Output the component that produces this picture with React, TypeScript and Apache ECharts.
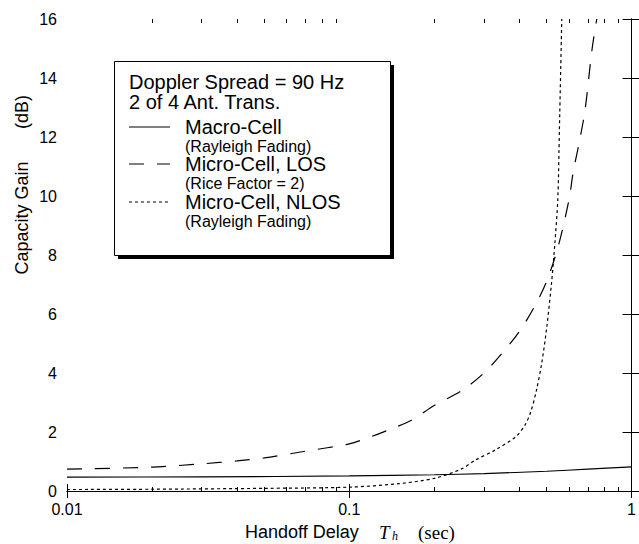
import React, { useEffect, useRef } from "react";
import * as echarts from "echarts";

// ---- data ----
const xTickLabels = ["0.01", "0.1", "1"];
const xMinorTicks = [0.02, 0.03, 0.04, 0.05, 0.06, 0.07, 0.08, 0.09, 0.2, 0.3, 0.4, 0.5, 0.6, 0.7, 0.8, 0.9];
const yMin = 0;
const yMax = 16;
const yStep = 2;

const macroX = [0.01, 0.03, 0.1, 0.2, 0.3, 0.5, 0.7, 1];
const macroY = [0.47, 0.48, 0.51, 0.55, 0.59, 0.67, 0.74, 0.82];

const losX = [0.01, 0.02, 0.03, 0.04, 0.05, 0.07, 0.1, 0.12, 0.136, 0.166, 0.2, 0.25, 0.3, 0.35, 0.4, 0.45, 0.5, 0.55, 0.601, 0.621, 0.652, 0.684, 0.724, 0.753];
const losY = [0.74, 0.81, 0.92, 1.02, 1.12, 1.35, 1.6, 1.85, 2.05, 2.4, 2.9, 3.4, 4.0, 4.7, 5.4, 6.2, 7.1, 8.3, 9.9, 10.8, 11.8, 12.9, 14.95, 16];

const nlosX = [0.01, 0.02, 0.05, 0.1, 0.15, 0.2, 0.25, 0.28, 0.33, 0.39, 0.42, 0.44, 0.46, 0.48, 0.5, 0.52, 0.535, 0.548, 0.555, 0.566];
const nlosY = [0.05, 0.06, 0.09, 0.13, 0.25, 0.43, 0.75, 1.05, 1.4, 1.85, 2.25, 2.7, 3.4, 4.3, 5.5, 7.0, 8.4, 9.9, 12.2, 16];

const legendTitle = ["Doppler Spread = 90 Hz", "2 of 4 Ant. Trans."];
const seriesNames = ["Macro-Cell", "Micro-Cell, LOS", "Micro-Cell, NLOS"];
const seriesNotes = ["(Rayleigh Fading)", "(Rice Factor = 2)", "(Rayleigh Fading)"];
const xAxisName = "Handoff Delay";
const yAxisName = "Capacity Gain";
const yAxisUnit = "(dB)";

const FONT = "'Liberation Sans', Arial, Helvetica, sans-serif";
const SERIF = "'Liberation Serif', 'Times New Roman', serif";

const dashes: (number[] | "solid")[] = ["solid", [15, 13], [3, 3]];

function pairs(xs: number[], ys: number[]) {
  return xs.map((x, i) => [x, ys[i]]);
}

export default function App() {
  const ref = useRef<HTMLDivElement>(null);
  useEffect(() => {
    if (!ref.current) return;
    const chart = echarts.init(ref.current, undefined, { renderer: "svg" });
    const minorLog = xMinorTicks.map((v) => Math.log10(v));
    const axisLine = { show: true, lineStyle: { color: "#000", width: 1 } };

    const legendX = 114;
    const legendY = 61;
    const legendW = 276;
    const legendH = 194;
    const titleY = [82, 102];
    const rowY = [127, 164, 202];
    const noteDy = 19;
    const graphic: any[] = [
      { type: "rect", z: 100, shape: { x: legendX + 4, y: legendY + 4, width: legendW, height: legendH }, style: { fill: "#000" } },
      { type: "rect", z: 101, shape: { x: legendX + 0.5, y: legendY + 0.5, width: legendW, height: legendH }, style: { fill: "#fff", stroke: "#000", lineWidth: 1 } },
      { type: "text", z: 102, x: 129, y: titleY[0], style: { text: legendTitle[0], fontSize: 20, fontFamily: FONT, fill: "#000", align: "left", verticalAlign: "middle" } },
      { type: "text", z: 102, x: 129, y: titleY[1], style: { text: legendTitle[1], fontSize: 20, fontFamily: FONT, fill: "#000", align: "left", verticalAlign: "middle" } },
    ];
    seriesNames.forEach((name, i) => {
      const d = dashes[i];
      graphic.push({
        type: "line", z: 102,
        shape: { x1: 129, y1: rowY[i], x2: 170, y2: rowY[i] },
        style: { stroke: "#000", lineWidth: 1.2, lineDash: d === "solid" ? null : d },
      });
      graphic.push({ type: "text", z: 102, x: 185, y: rowY[i], style: { text: name, fontSize: 20, fontFamily: FONT, fill: "#000", align: "left", verticalAlign: "middle" } });
      graphic.push({ type: "text", z: 102, x: 185, y: rowY[i] + noteDy, style: { text: seriesNotes[i], fontSize: 16, fontFamily: FONT, fill: "#000", align: "left", verticalAlign: "middle" } });
    });
    // axis names
    graphic.push({ type: "text", x: 245, y: 532, style: { text: xAxisName, fontSize: 18, fontFamily: FONT, fill: "#000", align: "left", verticalAlign: "middle" } });
    graphic.push({ type: "text", x: 379, y: 532, style: { text: "T", fontSize: 19, fontStyle: "italic", fontFamily: SERIF, fill: "#000", align: "left", verticalAlign: "middle" } });
    graphic.push({ type: "text", x: 392, y: 536, style: { text: "h", fontSize: 12, fontStyle: "italic", fontFamily: SERIF, fill: "#000", align: "left", verticalAlign: "middle" } });
    graphic.push({ type: "text", x: 418, y: 532, style: { text: "(sec)", fontSize: 19, fontFamily: SERIF, fill: "#000", align: "left", verticalAlign: "middle" } });
    graphic.push({ type: "text", x: 22, y: 218, rotation: Math.PI / 2, style: { text: yAxisName, fontSize: 18, fontFamily: FONT, fill: "#000", align: "center", verticalAlign: "middle" } });
    graphic.push({ type: "text", x: 22, y: 112, rotation: Math.PI / 2, style: { text: yAxisUnit, fontSize: 18, fontFamily: FONT, fill: "#000", align: "center", verticalAlign: "middle" } });

    const option: any = {
      animation: false,
      backgroundColor: "#fff",
      grid: { left: 67, right: 2, top: 19, bottom: 53, containLabel: false },
      xAxis: [
        {
          type: "log", logBase: 10, min: 0.01, max: 1, position: "bottom",
          axisLine, splitLine: { show: false },
          axisTick: { show: true, inside: true, length: 7, lineStyle: { color: "#000" } },
          axisLabel: {
            show: true, margin: 10, color: "#000", fontSize: 16, fontFamily: FONT,
            formatter: (v: number) => xTickLabels[Math.round(Math.log10(v)) + 2] ?? "",
          },
        },
        {
          type: "log", logBase: 10, min: 0.01, max: 1, position: "top",
          axisLine, splitLine: { show: false },
          axisTick: { show: true, inside: true, length: 7, lineStyle: { color: "#000" } },
          axisLabel: { show: false },
        },
        {
          type: "value", min: -2, max: 0, position: "bottom",
          axisLine: { show: false }, splitLine: { show: false },
          axisTick: { show: true, inside: true, length: 4, customValues: minorLog, lineStyle: { color: "#000" } },
          axisLabel: { show: false },
        },
        {
          type: "value", min: -2, max: 0, position: "top",
          axisLine: { show: false }, splitLine: { show: false },
          axisTick: { show: true, inside: true, length: 4, customValues: minorLog, lineStyle: { color: "#000" } },
          axisLabel: { show: false },
        },
      ],
      yAxis: [
        {
          type: "value", min: yMin, max: yMax, interval: yStep, position: "left",
          axisLine, splitLine: { show: false },
          axisTick: { show: true, inside: true, length: 9, lineStyle: { color: "#000" } },
          axisLabel: { show: true, margin: 10, color: "#000", fontSize: 16, fontFamily: FONT },
        },
        {
          type: "value", min: yMin, max: yMax, interval: yStep, position: "right",
          axisLine, splitLine: { show: false },
          axisTick: { show: true, inside: true, length: 9, lineStyle: { color: "#000" } },
          axisLabel: { show: false },
        },
      ],
      series: [
        { name: seriesNames[0], data: pairs(macroX, macroY) },
        { name: seriesNames[1], data: pairs(losX, losY) },
        { name: seriesNames[2], data: pairs(nlosX, nlosY) },
      ].map((s, i) => ({
        ...s,
        type: "line",
        xAxisIndex: 0,
        yAxisIndex: 0,
        smooth: 0.3,
        showSymbol: false,
        symbol: "none",
        clip: true,
        lineStyle: { color: "#000", width: 1.2, type: dashes[i] },
      })),
      graphic,
    };
    chart.setOption(option);
    return () => chart.dispose();
  }, []);
  return (
    <div
      ref={ref}
      style={{ position: "fixed", left: 0, top: 0, width: 639, height: 544, background: "#fff" }}
    />
  );
}
